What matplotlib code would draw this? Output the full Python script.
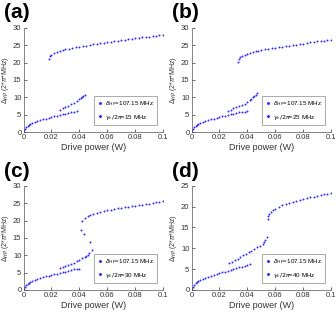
import matplotlib
matplotlib.use("Agg")
import matplotlib.pyplot as plt

plt.rcParams['font.family'] = ['Liberation Sans', 'DejaVu Sans']
plt.rcParams['mathtext.fontset'] = 'dejavusans'

# lower branch, shared x samples
low_x = [0, 0.001, 0.002, 0.003, 0.004, 0.005, 0.006, 0.008, 0.010, 0.012, 0.014,
         0.016, 0.018, 0.020, 0.022, 0.024, 0.026, 0.028, 0.030, 0.032, 0.034,
         0.036, 0.038, 0.040, 0.042]

# panel (a)  gamma_c/2pi = 15 MHz
a_low_y = [0, 0.9, 1.4, 1.8, 2.1, 2.4, 2.6, 2.9, 3.2, 3.5, 3.7, 3.9, 4.1, 4.3,
           4.5, 4.7, 4.9, 5.1, 5.3, 5.5, 5.7, 5.9, 6.1]
a_mid_x = [0.026, 0.028, 0.030, 0.032, 0.034, 0.036, 0.038, 0.040, 0.041, 0.042, 0.043, 0.044]
a_mid_y = [6.4, 6.8, 7.2, 7.6, 8.0, 8.4, 8.9, 9.4, 9.7, 10.0, 10.3, 10.7]
a_up_x = [0.018, 0.019, 0.020, 0.022, 0.024, 0.026, 0.028, 0.030, 0.0325, 0.035, 0.0375,
          0.040, 0.0425, 0.045, 0.0475, 0.050, 0.0525, 0.055, 0.0575, 0.060, 0.0625,
          0.065, 0.0675, 0.070, 0.0725, 0.075, 0.0775, 0.080, 0.0825, 0.085, 0.0875,
          0.090, 0.0925, 0.095, 0.0975, 0.100]
a_up_y = [21.0, 21.8, 22.2, 22.7, 23.0, 23.3, 23.6, 23.8, 24.0, 24.2, 24.4, 24.6,
          24.8, 24.9, 25.1, 25.3, 25.4, 25.6, 25.7, 25.9, 26.0, 26.2, 26.3, 26.5,
          26.6, 26.8, 26.9, 27.0, 27.2, 27.3, 27.4, 27.5, 27.6, 27.8, 27.9, 28.0]

# panel (b)  25 MHz
b_low_y = [0, 0.9, 1.4, 1.8, 2.1, 2.4, 2.6, 2.9, 3.2, 3.5, 3.7, 3.9, 4.1, 4.3,
           4.5, 4.7, 4.9, 5.1, 5.3, 5.5, 5.7, 5.8, 5.9, 6.0]
b_mid_x = [0.026, 0.028, 0.030, 0.032, 0.034, 0.036, 0.038, 0.040, 0.042, 0.043,
           0.044, 0.045, 0.046, 0.047]
b_mid_y = [6.0, 6.4, 6.8, 7.1, 7.5, 7.8, 8.2, 8.7, 9.2, 9.6, 10.0, 10.4, 10.8, 11.3]
b_up_x = [0.033, 0.034, 0.035, 0.036, 0.038, 0.040, 0.042, 0.044, 0.046, 0.048,
          0.050, 0.0525, 0.055, 0.0575, 0.060, 0.0625, 0.065, 0.0675, 0.070, 0.0725,
          0.075, 0.0775, 0.080, 0.0825, 0.085, 0.0875, 0.090, 0.0925, 0.095, 0.0975, 0.100]
b_up_y = [20.2, 21.0, 21.5, 21.8, 22.2, 22.5, 22.8, 23.0, 23.2, 23.4, 23.6, 23.8,
          24.0, 24.2, 24.3, 24.5, 24.6, 24.8, 24.9, 25.1, 25.2, 25.4, 25.5, 25.7,
          25.8, 25.9, 26.1, 26.2, 26.3, 26.4, 26.5]

# panel (c)  30 MHz
c_low_y = [0, 0.8, 1.3, 1.7, 2.0, 2.3, 2.5, 2.9, 3.2, 3.5, 3.7, 3.9, 4.1, 4.3,
           4.5, 4.7, 4.9, 5.1, 5.3, 5.5, 5.7, 5.9, 6.0, 6.1]
c_mid_x = [0.026, 0.028, 0.030, 0.032, 0.034, 0.036, 0.038, 0.040, 0.042, 0.044,
           0.045, 0.046, 0.047, 0.0488]
c_mid_y = [6.3, 6.7, 7.0, 7.3, 7.6, 7.9, 8.3, 8.7, 9.1, 9.5, 9.8, 10.1, 10.6, 11.6]
c_jump_x = [0.0479, 0.0431, 0.0412, 0.0419]
c_jump_y = [13.8, 16.1, 17.4, 19.8]
c_up_x = [0.0443, 0.046, 0.048, 0.050, 0.0525, 0.055, 0.0575, 0.060, 0.0625, 0.065,
          0.0675, 0.070, 0.0725, 0.075, 0.0775, 0.080, 0.0825, 0.085, 0.0875, 0.090,
          0.0925, 0.095, 0.0975, 0.100]
c_up_y = [20.6, 21.2, 21.6, 21.9, 22.2, 22.5, 22.7, 22.9, 23.1, 23.3, 23.5, 23.7,
          23.8, 24.0, 24.2, 24.3, 24.5, 24.6, 24.8, 24.9, 25.1, 25.2, 25.4, 25.5]

# panel (d)  40 MHz
d_low_y = [0, 0.8, 1.2, 1.6, 1.9, 2.1, 2.3, 2.6, 2.9, 3.2, 3.4, 3.6, 3.8, 4.0,
           4.2, 4.4, 4.6, 4.8, 5.0, 5.2, 5.4, 5.6, 5.8, 6.0, 6.3]
d_mid_x = [0.027, 0.029, 0.031, 0.033, 0.035, 0.037, 0.039, 0.041, 0.043, 0.045,
           0.047, 0.049, 0.051, 0.052, 0.053, 0.054]
d_mid_y = [6.4, 6.8, 7.1, 7.5, 7.9, 8.3, 8.6, 9.0, 9.4, 9.8, 10.2, 10.6, 11.1, 11.5, 12.0, 12.6]
d_up_x = [0.0545, 0.055, 0.0555, 0.057, 0.0585, 0.060, 0.0625, 0.065, 0.0675, 0.070,
          0.0725, 0.075, 0.0775, 0.080, 0.0825, 0.085, 0.0875, 0.090, 0.0925, 0.095,
          0.0975, 0.100]
d_up_y = [17.1, 17.7, 18.2, 18.8, 19.2, 19.5, 19.9, 20.3, 20.6, 20.9, 21.2, 21.4,
          21.6, 21.8, 22.0, 22.2, 22.4, 22.6, 22.8, 23.0, 23.1, 23.2]

panels = [
    ("(a)", "15", [(low_x[:len(a_low_y)], a_low_y), (a_mid_x, a_mid_y), (a_up_x, a_up_y)], 30),
    ("(b)", "25", [(low_x[:len(b_low_y)], b_low_y), (b_mid_x, b_mid_y), (b_up_x, b_up_y)], 30),
    ("(c)", "30", [(low_x[:len(c_low_y)], c_low_y), (c_mid_x, c_mid_y), (c_jump_x, c_jump_y),
                   (c_up_x, c_up_y)], 30),
    ("(d)", "40", [(low_x[:len(d_low_y)], d_low_y), (d_mid_x, d_mid_y), (d_up_x, d_up_y)], 25),
]

fig = plt.figure(figsize=(3.36, 3.36), dpi=100)
blue = '#2a2aff'
lefts = [0.07, 0.57, 0.07, 0.57]
bottoms = [0.607, 0.607, 0.137, 0.137]
tag_tops = [0.992, 0.992, 0.517, 0.517]

for i, (tag, gam, branches, ymax) in enumerate(panels):
    ax = fig.add_axes([lefts[i], bottoms[i], 0.415, 0.31])
    for bx, by in branches:
        ax.plot(bx, by, '.', color=blue, ms=2.8, mew=0)
    # legend entries
    h1, = ax.plot([], [], '.', color=blue, ms=2.2)
    h2, = ax.plot([], [], '.', color=blue, ms=2.2)
    leg = ax.legend([h1, h2], [r'$\delta_{HP}$=107.15 MHz', r'$\gamma_c/2\pi$=' + gam + ' MHz'],
                    loc='lower right', bbox_to_anchor=(0.98, 0.04), fontsize=4.5,
                    handlelength=0.8, handletextpad=0.4, borderpad=0.5, labelspacing=0.7,
                    fancybox=False, framealpha=1)
    leg.get_frame().set_edgecolor('#888888')
    leg.get_frame().set_linewidth(0.5)

    ax.set_xlim(0, 0.1)
    ax.set_ylim(0, ymax)
    ax.set_xticks([0, 0.02, 0.04, 0.06, 0.08, 0.1])
    ax.set_xticklabels(['0', '0.02', '0.04', '0.06', '0.08', '0.1'])
    ax.set_yticks(range(0, ymax + 1, 5))
    ax.tick_params(direction='in', length=2, width=0.5, labelsize=5.5, pad=1.5,
                   colors='#333333')
    for s in ['top', 'right']:
        ax.spines[s].set_visible(False)
    for s in ['left', 'bottom']:
        ax.spines[s].set_linewidth(0.5)
        ax.spines[s].set_color('#555555')
    ax.set_xlabel('Drive power (W)', fontsize=6.5, labelpad=1.5, color='#333333')
    ax.set_ylabel(r'$\Delta_{HP}$ (2*$\pi$*MHz)', fontsize=5, color='#333333')
    ax.yaxis.set_label_coords(-0.09, 0.5)
    fig.text(lefts[i] - 0.057, tag_tops[i], tag, fontsize=15, fontweight='bold', va='top')

fig.savefig('out.png', dpi=100)
